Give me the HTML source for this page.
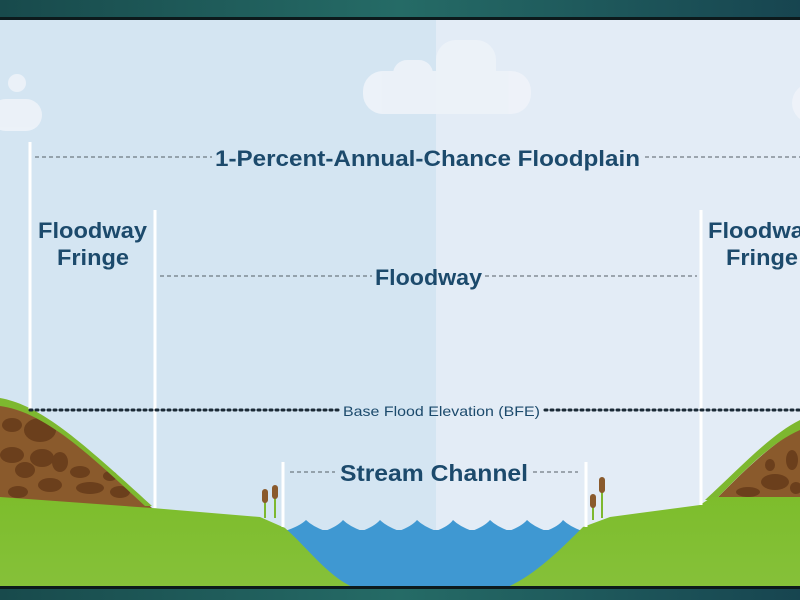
<!DOCTYPE html>
<html><head><style>html,body{margin:0;padding:0;width:800px;height:600px;overflow:hidden}</style></head>
<body>
<svg width="800" height="600" viewBox="0 0 800 600" xmlns="http://www.w3.org/2000/svg">
<defs>
<linearGradient id="band" x1="0" x2="1" y1="0" y2="0"><stop offset="0" stop-color="#184a4c"/><stop offset="0.5" stop-color="#256b66"/><stop offset="1" stop-color="#174550"/></linearGradient>
<linearGradient id="gr" x1="0" x2="0" y1="0" y2="1"><stop offset="0" stop-color="#7dbd2c"/><stop offset="1" stop-color="#86c13a"/></linearGradient>
</defs>
<rect x="0" y="0" width="436" height="600" fill="#d4e5f2"/>
<rect x="436" y="0" width="364" height="600" fill="#e3ecf6"/>
<g fill="#eef3f9" opacity="0.9">
<circle cx="17" cy="83" r="9"/>
<rect x="-10" y="99" width="52" height="32" rx="16"/>
<rect x="363" y="71" width="168" height="43" rx="20"/>
<rect x="393" y="60" width="40" height="30" rx="14"/>
<rect x="436" y="40" width="60" height="50" rx="20"/>
<circle cx="812" cy="103" r="20"/>
</g>
<!-- left hill -->
<path d="M0 402 C40 410 80 440 152 508 L0 508 Z" fill="#8a5a2c"/>
<g fill="#6b3f1c">
<ellipse cx="12" cy="425" rx="10" ry="7"/><ellipse cx="40" cy="430" rx="16" ry="12"/><ellipse cx="12" cy="455" rx="12" ry="8"/><ellipse cx="42" cy="458" rx="12" ry="9"/><ellipse cx="25" cy="470" rx="10" ry="8"/><ellipse cx="60" cy="462" rx="8" ry="10"/><ellipse cx="80" cy="472" rx="10" ry="6"/><ellipse cx="50" cy="485" rx="12" ry="7"/><ellipse cx="90" cy="488" rx="14" ry="6"/><ellipse cx="120" cy="492" rx="10" ry="6"/><ellipse cx="18" cy="492" rx="10" ry="6"/><ellipse cx="110" cy="476" rx="7" ry="5"/>
</g>
<path d="M0 398 C40 405 80 440 152 506 L145 506 C90 455 45 412 0 406 Z" fill="#7db82f"/>
<!-- right hill -->
<path d="M800 428 C770 445 745 470 715 500 L800 500 Z" fill="#8a5a2c"/>
<g fill="#6b3f1c"><ellipse cx="775" cy="482" rx="14" ry="8"/><ellipse cx="748" cy="492" rx="12" ry="5"/><ellipse cx="792" cy="460" rx="6" ry="10"/><ellipse cx="796" cy="488" rx="6" ry="6"/><ellipse cx="770" cy="465" rx="5" ry="6"/></g>
<path d="M800 420 C770 435 740 468 705 500 L715 500 C745 470 772 442 800 430 Z" fill="#7db82f"/>
<!-- water -->
<path d="M283 530 L590 530 C560 560 545 587 520 590 L340 590 C320 587 305 550 283 530 Z" fill="#3f98d2"/>
<path d="M285 531 Q300 526 306 520 Q312 526 325 531 Q338 526 343 520 Q349 526 362 531 Q375 526 380 520 Q386 526 399 531 Q412 526 417 520 Q423 526 436 531 Q449 526 453 520 Q459 526 472 531 Q485 526 490 520 Q496 526 509 531 Q522 526 527 520 Q533 526 546 531 Q559 526 563 520 Q569 526 582 531 L582 540 L285 540 Z" fill="#3f98d2"/>
<!-- ground -->
<path d="M0 497 L152 508 L260 517 L285 528 C310 550 330 580 360 590 L0 590 Z" fill="url(#gr)"/>
<path d="M800 497 L800 590 L500 590 C530 580 560 550 583 527 L610 517 L700 505 L712 497 Z" fill="url(#gr)"/>
<!-- cattails -->
<g stroke="#7db82f" stroke-width="2"><line x1="265" y1="500" x2="265" y2="518"/><line x1="275" y1="495" x2="275" y2="518"/><line x1="593" y1="505" x2="593" y2="520"/><line x1="602" y1="490" x2="602" y2="518"/></g>
<g fill="#8a5a2c"><rect x="262" y="489" width="6" height="14" rx="3"/><rect x="272" y="485" width="6" height="14" rx="3"/><rect x="590" y="494" width="6" height="14" rx="3"/><rect x="599" y="477" width="6" height="16" rx="3"/></g>
<rect x="0" y="0" width="800" height="18" fill="url(#band)"/>
<rect x="0" y="17" width="800" height="3" fill="#0c1a1c"/>
<rect x="0" y="586" width="800" height="3" fill="#0c1a1c"/>
<rect x="0" y="589" width="800" height="11" fill="url(#band)"/>
<g stroke="#ffffff" stroke-width="3">
<line x1="30" y1="142" x2="30" y2="410"/>
<line x1="155" y1="210" x2="155" y2="508"/>
<line x1="283" y1="462" x2="283" y2="527"/>
<line x1="586" y1="462" x2="586" y2="527"/>
<line x1="701" y1="210" x2="701" y2="505"/>
</g>
<g stroke="#555e66" stroke-width="1" stroke-dasharray="4 3">
<line x1="35" y1="157" x2="212" y2="157"/><line x1="645" y1="157" x2="800" y2="157"/>
<line x1="160" y1="276" x2="372" y2="276"/><line x1="485" y1="276" x2="697" y2="276"/>
<line x1="290" y1="472" x2="335" y2="472"/><line x1="533" y1="472" x2="578" y2="472"/>
</g>
<g stroke="#1b2a36" stroke-width="3" stroke-dasharray="2 4" stroke-linecap="round">
<line x1="30" y1="410" x2="338" y2="410"/><line x1="545" y1="410" x2="800" y2="410"/>
</g>
<g fill="#1c4a6c" font-family="'Liberation Sans Narrow','Liberation Sans',sans-serif" font-weight="bold">
<text x="215" y="166" font-size="22" textLength="425" lengthAdjust="spacingAndGlyphs">1-Percent-Annual-Chance Floodplain</text>
<text x="38" y="238" font-size="22" textLength="109" lengthAdjust="spacingAndGlyphs">Floodway</text>
<text x="57" y="265" font-size="22" textLength="72" lengthAdjust="spacingAndGlyphs">Fringe</text>
<text x="708" y="238" font-size="22" textLength="109" lengthAdjust="spacingAndGlyphs">Floodway</text>
<text x="726" y="265" font-size="22" textLength="72" lengthAdjust="spacingAndGlyphs">Fringe</text>
<text x="375" y="285" font-size="22" textLength="107" lengthAdjust="spacingAndGlyphs">Floodway</text>
<text x="340" y="481" font-size="23" textLength="188" lengthAdjust="spacingAndGlyphs">Stream Channel</text>
</g>
<text x="343" y="416" fill="#1c4a6c" font-family="'Liberation Sans',sans-serif" font-size="14" textLength="197" lengthAdjust="spacingAndGlyphs">Base Flood Elevation (BFE)</text>
</svg>
</body></html>
